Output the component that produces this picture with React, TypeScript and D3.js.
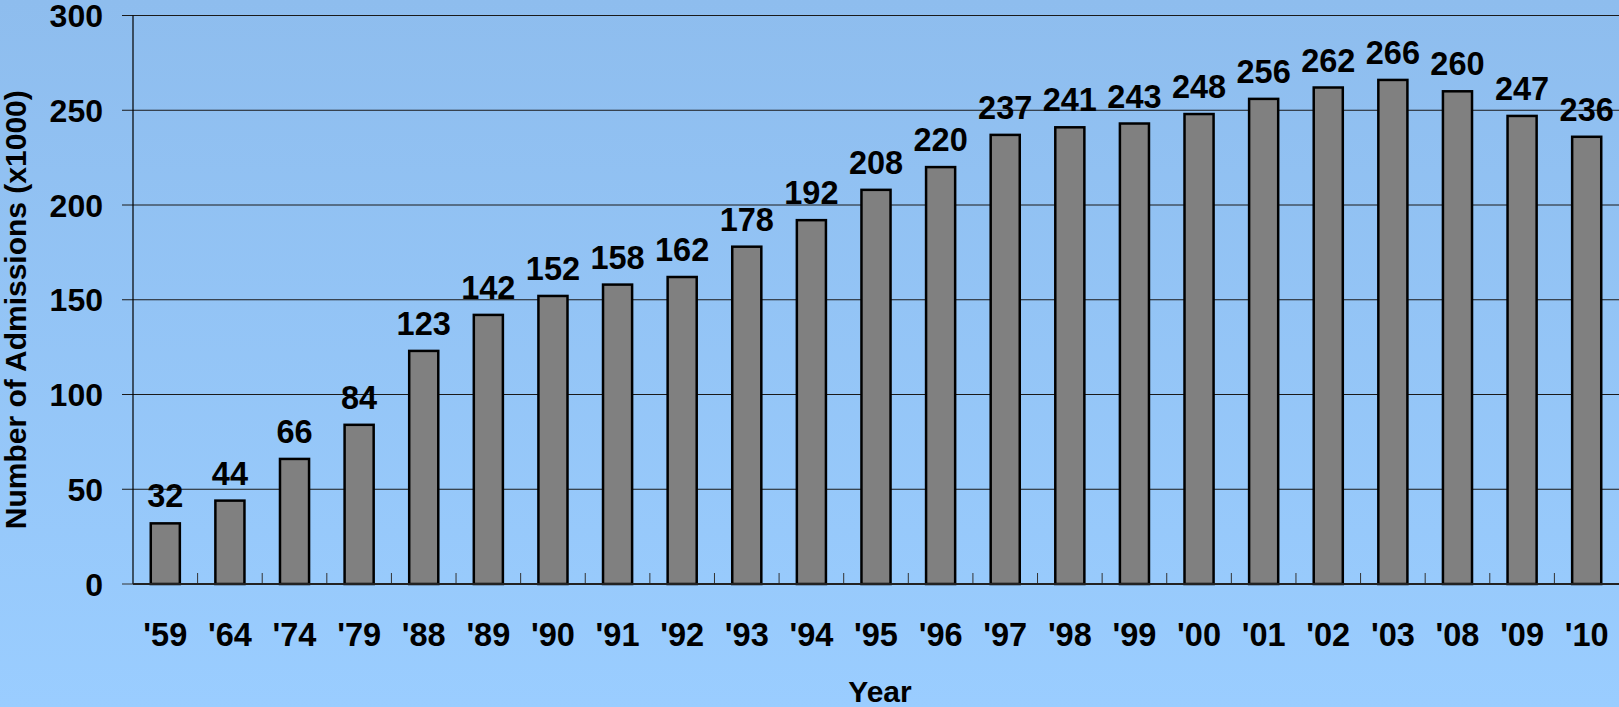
import React from 'react';
import * as d3 from 'd3';

const years = ["'59", "'64", "'74", "'79", "'88", "'89", "'90", "'91", "'92", "'93", "'94", "'95", "'96", "'97", "'98", "'99", "'00", "'01", "'02", "'03", "'08", "'09", "'10"];
const admissions = [32, 44, 66, 84, 123, 142, 152, 158, 162, 178, 192, 208, 220, 237, 241, 243, 248, 256, 262, 266, 260, 247, 236];
const yTicks = [0, 50, 100, 150, 200, 250, 300];

const W = 1619;
const H = 707;
const margin = { top: 15.5, right: 0, bottom: 123, left: 133 };
const font = 'Arial, "Liberation Sans", Helvetica, sans-serif';

export default function App() {
    const x = d3.scaleBand<string>()
        .domain(years)
        .range([margin.left, W - margin.right])
        .paddingInner(0.55)
        .paddingOuter(0.275);
    const y = d3.scaleLinear()
        .domain([0, 300])
        .range([H - margin.bottom, margin.top]);
    const step = x.step();
    const gap = (step - x.bandwidth()) / 2;
    const base = y(0);

    return (
        <svg width={W} height={H} style={{ position: 'absolute', left: 0, top: 0, display: 'block' }}>
            <defs>
                <linearGradient id="bg" x1="0" y1="0" x2="0" y2="1">
                    <stop offset="0%" stopColor="#8ebdee" />
                    <stop offset="100%" stopColor="#9acdff" />
                </linearGradient>
            </defs>
            <rect x={0} y={0} width={W} height={H} fill="url(#bg)" />

            {/* gridlines */}
            {yTicks.filter(t => t > 0).map(t => (
                <line key={t} x1={margin.left - 11} x2={W} y1={y(t)} y2={y(t)} stroke="#1a1a1a" strokeWidth={1} />
            ))}

            {/* bars */}
            {admissions.map((v, i) => (
                <rect key={years[i]} x={x(years[i])} y={y(v)} width={x.bandwidth()} height={base - y(v)}
                    fill="#808080" stroke="#000" strokeWidth={2.5} />
            ))}

            {/* axes */}
            <line x1={margin.left} x2={margin.left} y1={margin.top} y2={base} stroke="#000" strokeWidth={1.2} />
            <line x1={margin.left - 11} x2={margin.left} y1={base} y2={base} stroke="#333" strokeWidth={1} />
            {years.slice(1).map(c => (
                <line key={c} x1={(x(c) as number) - gap} x2={(x(c) as number) - gap} y1={base - 11} y2={base}
                    stroke="#333" strokeWidth={1} />
            ))}
            <line x1={margin.left} x2={W} y1={base} y2={base} stroke="#222" strokeWidth={2} />

            {/* y tick labels */}
            {yTicks.map(t => (
                <text key={t} x={103} y={y(t)} dy="0.36em" textAnchor="end" fontFamily={font} fontWeight="bold"
                    fontSize={32} fill="#000">{t}</text>
            ))}

            {/* x tick labels */}
            {years.map(c => (
                <text key={c} x={(x(c) as number) + x.bandwidth() / 2} y={646} textAnchor="middle" fontFamily={font}
                    fontWeight="bold" fontSize={32.5} fill="#000">{c}</text>
            ))}

            {/* value labels */}
            {admissions.map((v, i) => (
                <text key={years[i]} x={(x(years[i]) as number) + x.bandwidth() / 2} y={y(v) - 16} textAnchor="middle"
                    fontFamily={font} fontWeight="bold" fontSize={32.5} fill="#000">{v}</text>
            ))}

            {/* titles */}
            <text x={880} y={702} textAnchor="middle" fontFamily={font} fontWeight="bold" fontSize={30} fill="#000">Year</text>
            <text transform={`translate(26, ${(margin.top + base) / 2 + 10}) rotate(-90)`} textAnchor="middle" fontFamily={font}
                fontWeight="bold" fontSize={30} fill="#000">Number of Admissions (x1000)</text>
        </svg>
    );
}
